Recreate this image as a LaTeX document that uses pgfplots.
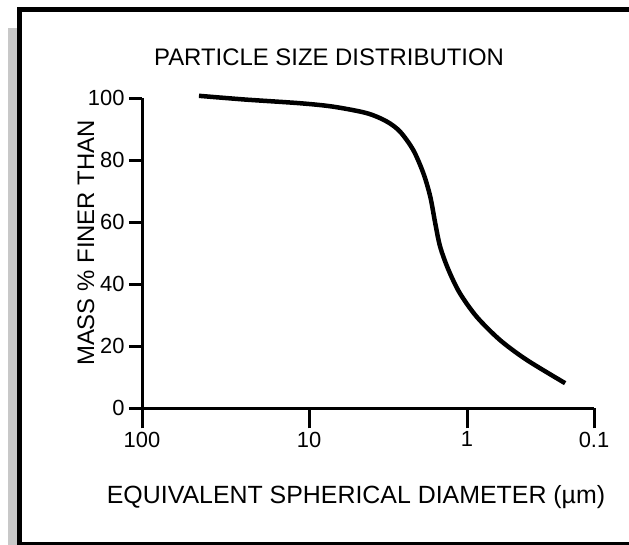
\documentclass[border=0pt]{standalone}
\usepackage{fontspec}
\setmainfont{Liberation Sans}
\usepackage{pgfplots}
\pgfplotsset{compat=1.18}
\definecolor{stripgray}{RGB}{200,200,200}
\pgfplotsset{
  psdbase/.style={
    at={(142bp,136.7bp)}, anchor=south west,
    scale only axis, width=452bp, height=310bp,
    x coord trafo/.code={%
      \pgfmathparse{ln(##1)/ln(10)}\let\uval\pgfmathresult
      \pgfmathparse{\uval>=1 ? 167*(2-\uval) : (\uval>=0 ? 167+158*(1-\uval) : 325-127*(\uval))}%
    },
    xmin=100, xmax=0.1, ymin=0, ymax=100,
    /pgf/number format/assume math mode=true,
    tick label style={font=\fontsize{22}{26}\selectfont},
    clip=false,
  }
}
\begin{document}
\begin{tikzpicture}[x=1bp,y=1bp]
\useasboundingbox (0,0) rectangle (629,545);
% frame
\fill[stripgray] (8,0) rectangle (17,517);
\fill[black] (17,0) rectangle (22,538);
\fill[black] (17,532.7) rectangle (629,538);
\fill[black] (17,0) rectangle (629,2.5);
% texts
\node[font=\fontsize{24}{28}\selectfont] at (329,488) {PARTICLE SIZE DISTRIBUTION};
\node[font=\fontsize{24}{28}\selectfont, rotate=90] at (86,302) {MASS \% FINER THAN};
\node[font=\fontsize{25}{29}\selectfont] at (356,48) {EQUIVALENT SPHERICAL DIAMETER (µm)};
% main axis: y axis, data
\begin{axis}[psdbase,
  axis x line=bottom, axis y line=left,
  every outer x axis line/.append style={-, line width=3bp},
  every outer y axis line/.append style={-, line width=3bp},
  xtick=\empty,
  ytick={0,20,40,60,80,100},
  ytick align=outside,
  major tick length=13bp,
  tick style={line width=2.8bp, black},
  yticklabel style={xshift=-1bp},
]
\addplot[black, line width=4.5bp, smooth] coordinates {
(45.6,100.8)
(24.2,99.6)
(11.3,98.4)
(7.05,97.3)
(4.31,95.2)
(3.22,92.5)
(2.65,89.2)
(2.19,83.3)
(1.89,75.8)
(1.71,68.3)
(1.59,59.7)
(1.48,52.1)
(1.31,44.6)
(1.11,37.1)
(0.839,29.5)
(0.550,22.0)
(0.339,15.6)
(0.169,8.1)
};
\end{axis}
% second axis: x ticks only (longer ticks)
\begin{axis}[psdbase,
  axis x line=bottom, axis y line=none,
  every outer x axis line/.append style={-, line width=3bp},
  xtick={100,10,1,0.1}, xticklabels={100,10,1,0.1},
  xtick align=outside,
  major tick length=20bp,
  tick style={line width=3bp, black},
]
\end{axis}
\end{tikzpicture}
\end{document}
